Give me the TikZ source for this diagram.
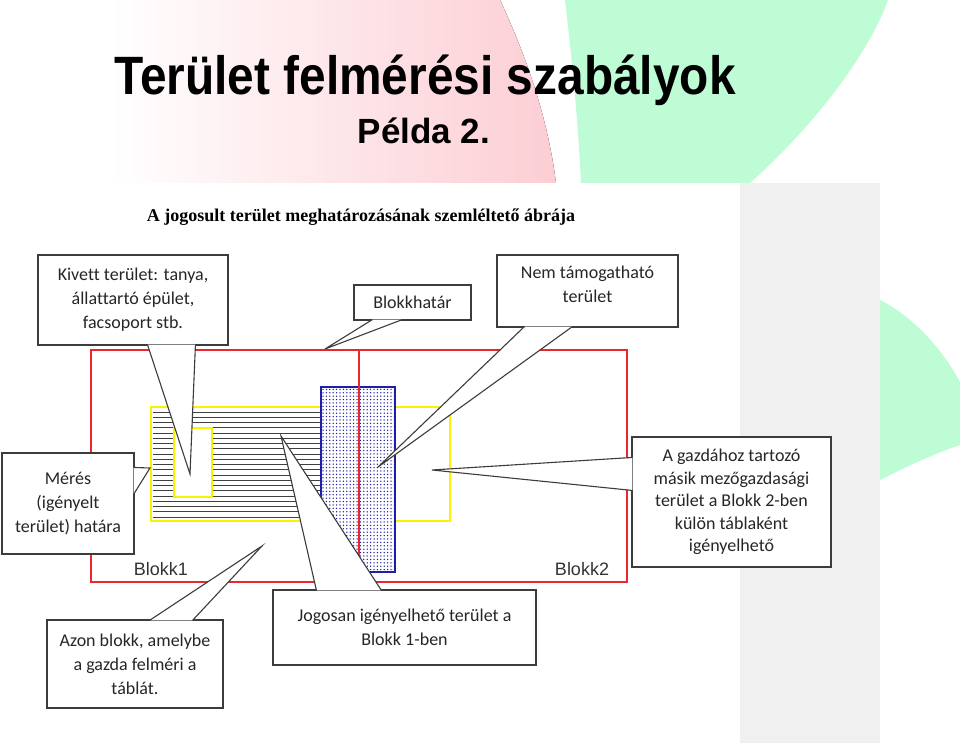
\documentclass[tikz,border=0pt]{standalone}
\usepackage{fontspec}
\setmainfont{Liberation Sans}
\newfontfamily\calibri[Ligatures=NoCommon]{Carlito}
\newfontfamily\bookserif{Liberation Serif}
\usetikzlibrary{calc,patterns}
\definecolor{slidepink}{RGB}{252,206,212}
\definecolor{slidegreen}{RGB}{190,252,214}
\definecolor{panelgray}{RGB}{240,240,240}
\definecolor{blokkred}{RGB}{232,40,45}
\definecolor{meresyellow}{RGB}{250,242,0}
\definecolor{dotblue}{RGB}{30,30,170}
\definecolor{boxline}{RGB}{60,60,60}
\pgfdeclarepatternformonly{blokkdots}{\pgfqpoint{-1pt}{-1pt}}{\pgfqpoint{1pt}{1pt}}{\pgfqpoint{3.4pt}{3.4pt}}{%
  \pgfpathcircle{\pgfqpoint{0pt}{0pt}}{0.75pt}\pgfusepath{fill}}
\tikzstyle{callout} = [draw=boxline, fill=white, line width=1.1pt, inner sep=0pt, align=center, text=black!85, font=\calibri\fontsize{18}{24}\selectfont]
\tikzstyle{tail} = [draw=boxline, line width=1.1pt, line join=miter]
\tikzstyle{blokklabel} = [text=black!80, font=\fontsize{18}{20}\selectfont]
\tikzstyle{redline} = [draw=blokkred, line width=2pt]
\tikzstyle{yellowline} = [draw=meresyellow, line width=2.5pt]
\tikzstyle{hatchline} = [draw=black!75, line width=1pt]
\newcommand{\calltail}[3]{%
  \fill[white] #1 -- #2 -- #3 -- cycle;
  \draw[tail] #1 -- #2 -- #3;}

\begin{document}
\begin{tikzpicture}[x=1pt, y={(0pt,-1pt)}]
\useasboundingbox (0,0) rectangle (960,743);
% slide background
\fill[white] (0,0) rectangle (960,743);
\fill[left color=white, right color=slidepink] (110,0) -- (500,0) .. controls (528,60) and (548,120) .. (556,183) -- (110,183) -- cycle;
\fill[slidegreen] (565,0) .. controls (572,60) and (578,120) .. (581,183) -- (750,183) .. controls (820,120) and (870,50) .. (888,0) -- cycle;
\fill[slidegreen] (880,300) .. controls (910,315) and (940,345) .. (960,382) -- (960,445) .. controls (930,455) and (900,470) .. (880,480) -- cycle;
\fill[white] (0,183) rectangle (740,743);
\fill[panelgray] (740,183) rectangle (880,743);

\node (cim) at (425,80) {\fontsize{54}{60}\selectfont\bfseries\scalebox{0.886}[1]{Terület felmérési szabályok}};
\node (pelda) at (424,131) {\fontsize{35}{40}\selectfont\bfseries Példa 2.};
\node (abra) at (361,217) {\bookserif\fontsize{18}{22}\selectfont\bfseries A jogosult terület meghatározásának szemléltető ábrája};

% blokkok es meres
\draw[redline] (91,350) rectangle (627,582);
\draw[yellowline] (151,407) rectangle (450,521);
\foreach \y in {412,417.25,...,518}
  \draw[hatchline] (152.5,\y) -- (321,\y);
\filldraw[yellowline, fill=white] (174,428) rectangle (212,497);
\filldraw[draw=dotblue, line width=1.2pt, fill=white] (321,387) rectangle (395,572);
\fill[pattern=blokkdots, pattern color=dotblue] (321,387) rectangle (395,572);
\draw[draw=dotblue, line width=1.2pt] (321,387) rectangle (395,572);
\draw[redline] (359,350) -- (359,582);
\node[blokklabel] (blokk1) at (161,569) {Blokk1};
\node[blokklabel] (blokk2) at (582,569) {Blokk2};

% magyarazo dobozok
\node[callout, minimum width=190, minimum height=90] (kivett) at (133,300) {Kivett terület: tanya,\\állattartó épület,\\facsoport stb.};
\node[callout, minimum width=117, minimum height=35] (hatar) at (412.5,302.5) {Blokkhatár};
\node[callout, minimum width=181, minimum height=72, text depth=14pt] (nemtam) at (587.5,291) {Nem támogatható\\terület};
\node[callout, minimum width=199, minimum height=130, font=\calibri\fontsize{18}{22.5}\selectfont] (gazda) at (731.5,502) {A gazdához tartozó\\másik mezőgazdasági\\terület a Blokk 2-ben\\külön táblaként\\igényelhető};
\node[callout, minimum width=132, minimum height=101] (meres) at (68,503.5) {Mérés\\(igényelt\\terület) határa};
\node[callout, minimum width=176, minimum height=88] (azon) at (135,664) {Azon blokk, amelybe\\a gazda felméri a\\táblát.};
\node[callout, minimum width=263, minimum height=75] (jogosan) at (404.5,627.5) {Jogosan igényelhető terület a\\Blokk 1-ben};

\coordinate (kivett tip) at (190,474);
\coordinate (hatar tip) at (325,349);
\coordinate (nemtam tip) at (378,467);
\coordinate (gazda tip) at (432,470);
\coordinate (meres tip) at (150,468);
\coordinate (azon tip) at (262,546);
\coordinate (jogosan tip) at (281,436);

\calltail{($(kivett.south west)+(110,-1)$)}{(kivett tip)}{($(kivett.south west)+(158,-1)$)}
\calltail{($(hatar.south west)+(19,-1)$)}{(hatar tip)}{($(hatar.south west)+(49,-1)$)}
\calltail{($(nemtam.south west)+(28,-1)$)}{(nemtam tip)}{($(nemtam.south west)+(76,-1)$)}
\calltail{($(gazda.north west)+(1,21)$)}{(gazda tip)}{($(gazda.north west)+(1,54)$)}
\calltail{($(meres.north east)+(-1,15)$)}{(meres tip)}{($(meres.north east)+(-1,42)$)}
\calltail{($(azon.north west)+(103,1)$)}{(azon tip)}{($(azon.north west)+(146,1)$)}
\calltail{($(jogosan.north west)+(44,1)$)}{(jogosan tip)}{($(jogosan.north west)+(109,1)$)}
\end{tikzpicture}
\end{document}
